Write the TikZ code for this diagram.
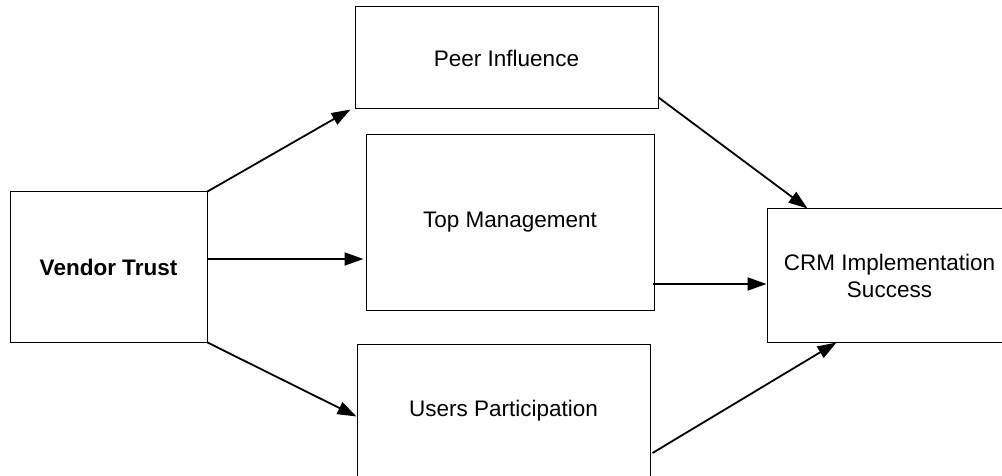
\documentclass[tikz,border=0pt]{standalone}
\usepackage{fontspec}
\setmainfont{Liberation Sans}
\usetikzlibrary{arrows.meta,calc}

\tikzset{
  box/.style={draw=black, line width=1pt, inner sep=0pt, rectangle,
    align=center, font=\fontsize{22.5}{27}\selectfont},
  link/.style={line width=1.8pt, -{Triangle[length=19pt,width=13pt]}}
}

\begin{document}
\begin{tikzpicture}[x=1pt,y=-1pt]
  \useasboundingbox (0,0) rectangle (1002,476);
  \clip (0,0) rectangle (1002,476);

  % constructs
  \node[box, minimum width=197pt, minimum height=150pt] (vt) at (108.5,267)
    {\bfseries Vendor Trust};
  \node[box, minimum width=303pt, minimum height=102pt] (pi) at (506.5,58)
    {Peer Influence};
  \node[box, minimum width=288pt, minimum height=175pt] (tm) at (510,222.5)
    {Top Management};
  \node[box, minimum width=293pt, minimum height=134pt] (up) at (503.5,411)
    {\raisebox{2pt}{Users Participation}};
  \node[box, minimum width=245pt, minimum height=133pt] (crm) at (889.5,275.5)
    {CRM Implementation\\Success};

  % paths from the antecedent through the mediators
  \draw[link] (vt.north east) -- ($(pi.south west)+(-4,0)$);
  \coordinate (s2) at ($(vt.east)+(0,-8)$);
  \draw[link, shorten >=2pt] (s2) -- (s2 -| tm.west);
  \draw[link] (vt.south east) -- ($(up.north west)+(0,73)$);

  % paths into the outcome
  \draw[link] ($(pi.south east)+(0,-12)$) -- ($(crm.north west)+(41,0)$);
  \coordinate (s5) at ($(tm.east)+(-2,61.5)$);
  \draw[link] (s5) -- (s5 -| crm.west);
  \draw[link] ($(up.east)+(2,42)$) -- ($(crm.south west)+(70,0)$);
\end{tikzpicture}
\end{document}
